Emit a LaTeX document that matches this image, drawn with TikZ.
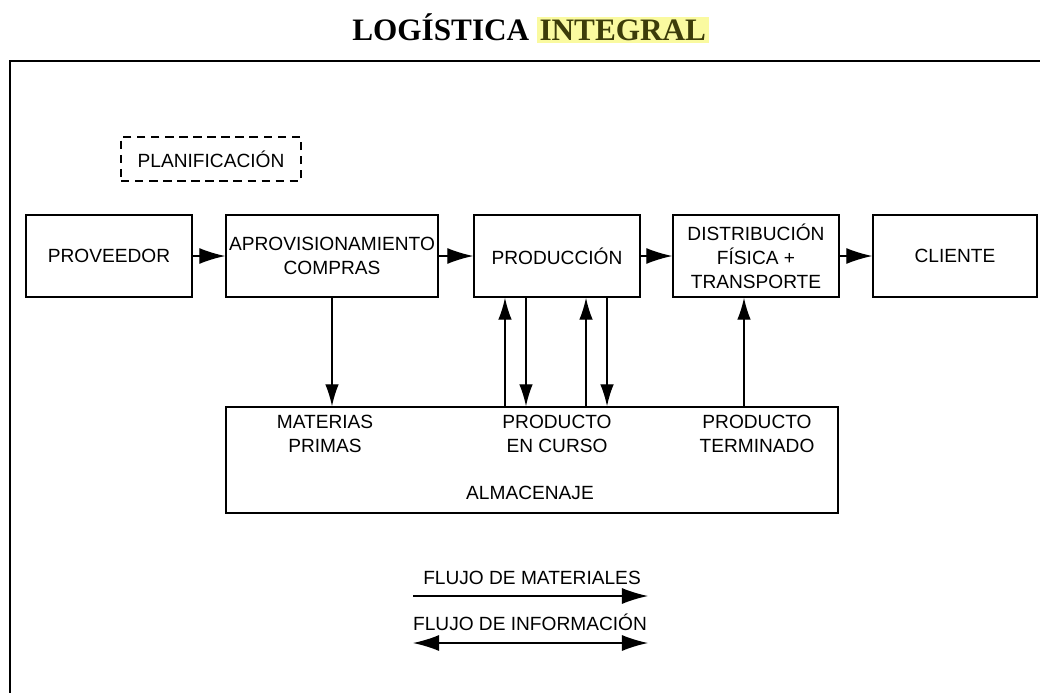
\documentclass[tikz,border=0pt]{standalone}
\usepackage{fontspec}
\setmainfont{Liberation Sans}
\newfontfamily\titlefont{Liberation Serif}
\usepackage{tikz}
\usetikzlibrary{arrows.meta,positioning}
\definecolor{marker}{RGB}{250,250,160}
\definecolor{markertext}{RGB}{60,60,10}

\begin{document}
\begin{tikzpicture}[x=0.025cm,y=-0.025cm,line width=1pt,
  every node/.style={font=\fontsize{13.6}{17}\selectfont,align=center},
  box/.style={shape=rectangle,draw,minimum width=4.15cm,minimum height=2.05cm,inner sep=1pt},
  flow/.style={-{Latex[length=6.5mm,width=4mm]}},
  vflow/.style={-{Latex[length=5.5mm,width=3.4mm]}}]
\useasboundingbox (0,0) rectangle (1040,692);
%[frame]
\draw (10,720) |- (1060,61);
\path (530,40) node (title) [anchor=base east,inner sep=0pt,font=\titlefont\bfseries\fontsize{22.2}{26}\selectfont] {LOG\'ISTICA};
\node (titlehl) [base right=1.5mm of title,inner sep=2pt,fill=marker,text=markertext,font=\titlefont\bfseries\fontsize{22.2}{26}\selectfont] {INTEGRAL};

\path (211,159) node (planif) [box,dashed,dash pattern=on 6pt off 4pt,minimum width=4.5cm,minimum height=1.1cm] {PLANIFICACI\'ON};
\path (109,256) node (prov) [box] {PROVEEDOR};
\path (332,256) node (aprov) [box,minimum width=5.3cm] {APROVISIONAMIENTO\\COMPRAS};
\path (557,256) node (prod) [box] {PRODUCCI\'ON};
\path (756,256) node (dist) [box] {DISTRIBUCI\'ON\\F\'ISICA +\\TRANSPORTE};
\path (955,256) node (cli) [box,minimum width=4.1cm] {CLIENTE};
\path (532,460) node (alm) [box,minimum width=15.3cm,minimum height=2.65cm] {};

\path (325,434) node (mat) {MATERIAS\\PRIMAS};
\path (557,434) node (curso) {PRODUCTO\\EN CURSO};
\path (757,434) node (term) {PRODUCTO\\TERMINADO};
\path (530,493) node (almlabel) {ALMACENAJE};

\draw [flow] (prov) to (aprov);
\draw [flow] (aprov) to (prod);
\draw [flow] (prod) to (dist);
\draw [flow] (dist) to (cli);

\draw [vflow] (aprov.south) to (aprov.south |- alm.north);
\draw [vflow] ([xshift=-1.3cm]prod.south |- alm.north) to ([xshift=-1.3cm]prod.south);
\draw [vflow] ([xshift=-0.775cm]prod.south) to ([xshift=-0.775cm]prod.south |- alm.north);
\draw [vflow] ([xshift=0.725cm]prod.south |- alm.north) to ([xshift=0.725cm]prod.south);
\draw [vflow] ([xshift=1.25cm]prod.south) to ([xshift=1.25cm]prod.south |- alm.north);
\draw [vflow] ([xshift=-0.3cm]dist.south |- alm.north) to ([xshift=-0.3cm]dist.south);

%[legend]
\path (532,578) node (matlabel) {FLUJO DE MATERIALES};
\coordinate (matA) at (413,596);
\coordinate (matB) at (648,596);
\draw [flow] (matA) to (matB);
\path (530,622) node (infolabel) {FLUJO DE INFORMACI\'ON};
\coordinate (infoA) at (413,643);
\coordinate (infoB) at (648,643);
\draw [{Latex[length=6.5mm,width=4mm]}-{Latex[length=6.5mm,width=4mm]}] (infoA) to (infoB);
\end{tikzpicture}
\end{document}
